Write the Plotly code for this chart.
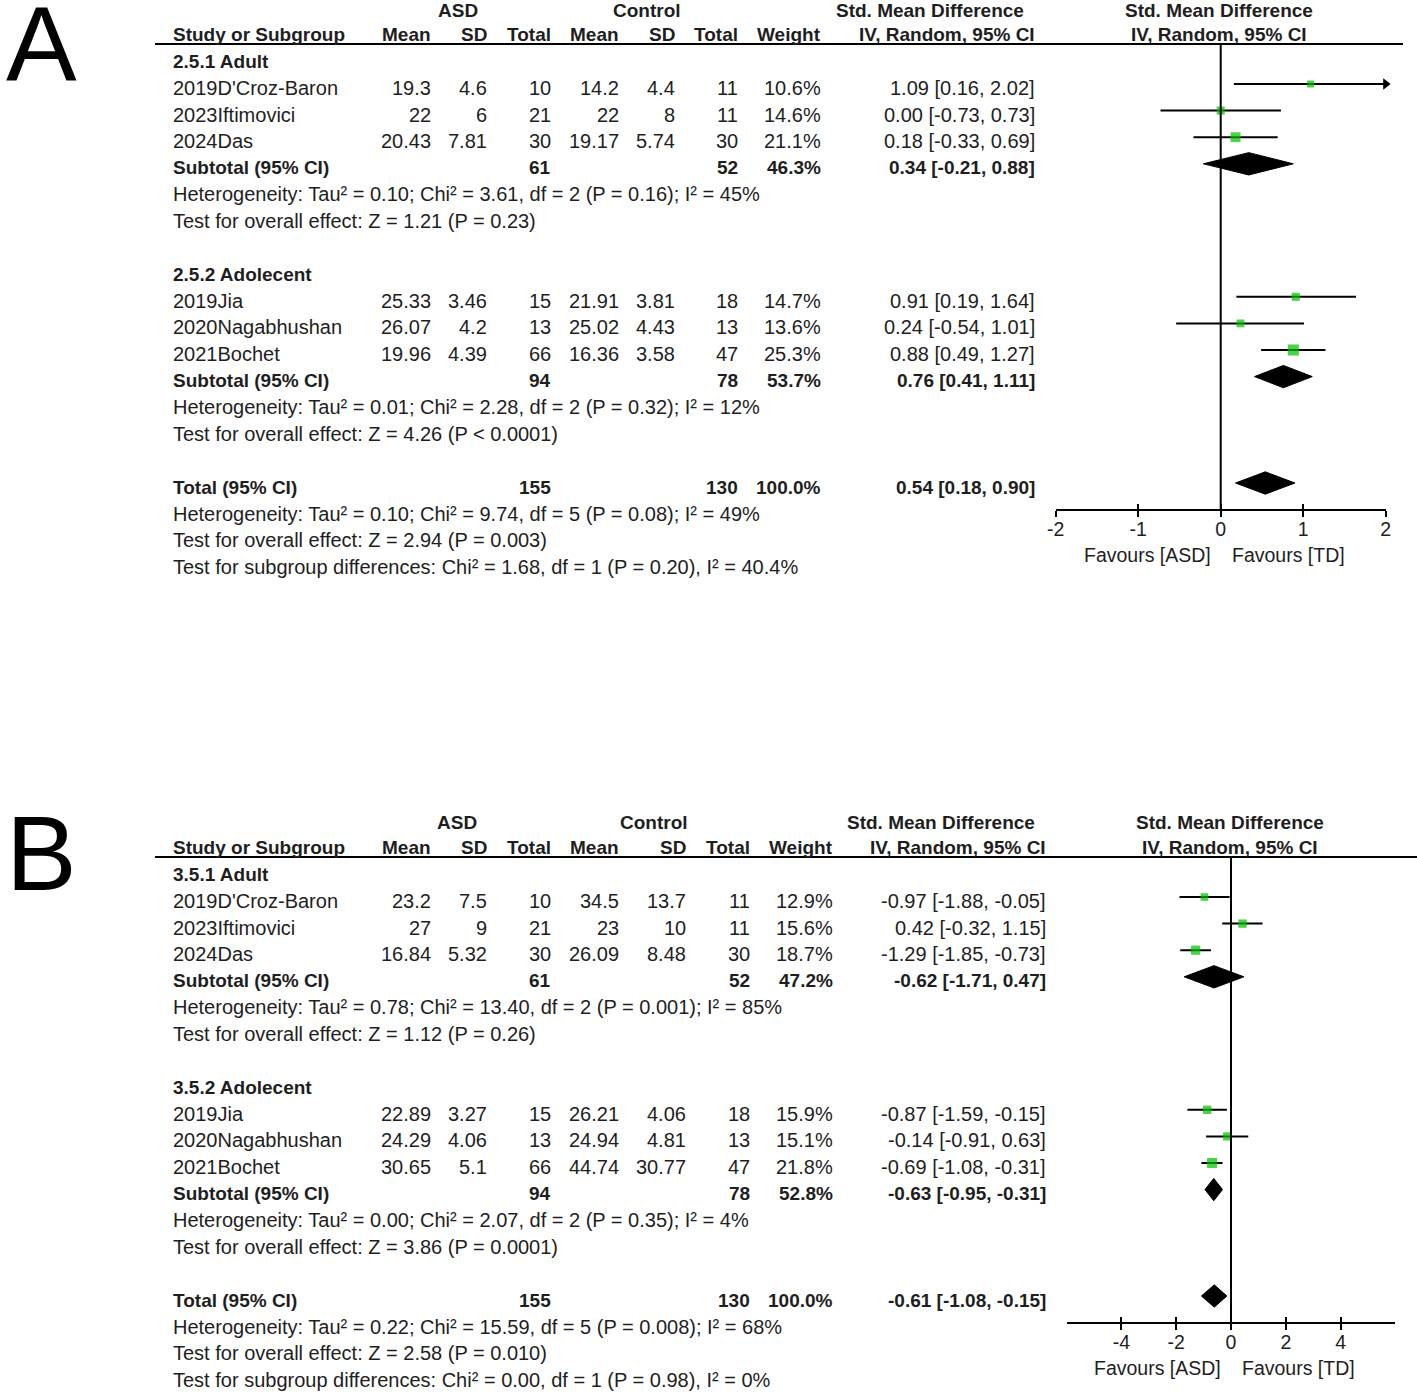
import plotly.graph_objects as go

W, H = 1417, 1397
OFF = 0          # body margin removed by post_script below
ROW_PX = 26.6
FONT = "Liberation Sans"
TXT = "#1e1e1e"
GREEN = "#00c000"

# ---------------- data ----------------
studies = ["2019D'Croz-Baron", "2023Iftimovici", "2024Das",
           "2019Jia", "2020Nagabhushan", "2021Bochet"]
asd_n = [10, 21, 30, 15, 13, 66]
ctl_n = [11, 11, 30, 18, 13, 47]

# Panel A
asd_mean_A = [19.3, 22, 20.43, 25.33, 26.07, 19.96]
asd_sd_A = [4.6, 6, 7.81, 3.46, 4.2, 4.39]
ctl_mean_A = [14.2, 22, 19.17, 21.91, 25.02, 16.36]
ctl_sd_A = [4.4, 8, 5.74, 3.81, 4.43, 3.58]
weight_A = [10.6, 14.6, 21.1, 14.7, 13.6, 25.3]
smd_A = [1.09, 0.00, 0.18, 0.91, 0.24, 0.88]
lo_A = [0.16, -0.73, -0.33, 0.19, -0.54, 0.49]
hi_A = [2.02, 0.73, 0.69, 1.64, 1.01, 1.27]
groups_A = ["2.5.1 Adult", "2.5.2 Adolecent"]
sub_asd_n_A = [61, 94]
sub_ctl_n_A = [52, 78]
sub_weight_A = [46.3, 53.7]
sub_est_A = [0.34, 0.76]
sub_lo_A = [-0.21, 0.41]
sub_hi_A = [0.88, 1.11]
sub_het_A = ["Heterogeneity: Tau² = 0.10; Chi² = 3.61, df = 2 (P = 0.16); I² = 45%",
             "Heterogeneity: Tau² = 0.01; Chi² = 2.28, df = 2 (P = 0.32); I² = 12%"]
sub_test_A = ["Test for overall effect: Z = 1.21 (P = 0.23)",
              "Test for overall effect: Z = 4.26 (P < 0.0001)"]
tot_A = dict(asd=155, ctl=130, weight=100.0, est=0.54, lo=0.18, hi=0.90)
tot_lines_A = ["Heterogeneity: Tau² = 0.10; Chi² = 9.74, df = 5 (P = 0.08); I² = 49%",
               "Test for overall effect: Z = 2.94 (P = 0.003)",
               "Test for subgroup differences: Chi² = 1.68, df = 1 (P = 0.20), I² = 40.4%"]
ticks_A = [-2, -1, 0, 1, 2]

# Panel B
asd_mean_B = [23.2, 27, 16.84, 22.89, 24.29, 30.65]
asd_sd_B = [7.5, 9, 5.32, 3.27, 4.06, 5.1]
ctl_mean_B = [34.5, 23, 26.09, 26.21, 24.94, 44.74]
ctl_sd_B = [13.7, 10, 8.48, 4.06, 4.81, 30.77]
weight_B = [12.9, 15.6, 18.7, 15.9, 15.1, 21.8]
smd_B = [-0.97, 0.42, -1.29, -0.87, -0.14, -0.69]
lo_B = [-1.88, -0.32, -1.85, -1.59, -0.91, -1.08]
hi_B = [-0.05, 1.15, -0.73, -0.15, 0.63, -0.31]
groups_B = ["3.5.1 Adult", "3.5.2 Adolecent"]
sub_asd_n_B = [61, 94]
sub_ctl_n_B = [52, 78]
sub_weight_B = [47.2, 52.8]
sub_est_B = [-0.62, -0.63]
sub_lo_B = [-1.71, -0.95]
sub_hi_B = [0.47, -0.31]
sub_het_B = ["Heterogeneity: Tau² = 0.78; Chi² = 13.40, df = 2 (P = 0.001); I² = 85%",
             "Heterogeneity: Tau² = 0.00; Chi² = 2.07, df = 2 (P = 0.35); I² = 4%"]
sub_test_B = ["Test for overall effect: Z = 1.12 (P = 0.26)",
              "Test for overall effect: Z = 3.86 (P = 0.0001)"]
tot_B = dict(asd=155, ctl=130, weight=100.0, est=-0.61, lo=-1.08, hi=-0.15)
tot_lines_B = ["Heterogeneity: Tau² = 0.22; Chi² = 15.59, df = 5 (P = 0.008); I² = 68%",
               "Test for overall effect: Z = 2.58 (P = 0.010)",
               "Test for subgroup differences: Chi² = 0.00, df = 1 (P = 0.98), I² = 0%"]
ticks_B = [-4, -2, 0, 2, 4]

panels = [
    dict(letter="A", letter_y=42.5, head_y=11, top=30.8, dom=(0, 600), xdom=(1055.7, 1385.7),
         xr=(-2, 2), ticks=ticks_A, line_end=1403, ya="y", xa="x", xo="x3",
         yk="yaxis", xk="xaxis", xok="xaxis3",
         cols=dict(am=433, asd=489, an=553, cm=621, csd=677, cn=740, w=823, ci=1037,
                   h_asd=458, h_ctl=647, h_smd=930, h_plot=1219),
         asd_mean=asd_mean_A, asd_sd=asd_sd_A, ctl_mean=ctl_mean_A, ctl_sd=ctl_sd_A,
         weight=weight_A, smd=smd_A, lo=lo_A, hi=hi_A, groups=groups_A,
         sub_an=sub_asd_n_A, sub_cn=sub_ctl_n_A, sub_w=sub_weight_A, sub_est=sub_est_A,
         sub_lo=sub_lo_A, sub_hi=sub_hi_A, sub_het=sub_het_A, sub_test=sub_test_A,
         tot=tot_A, tot_lines=tot_lines_A),
    dict(letter="B", letter_y=853, head_y=822, top=843.8, dom=(813, H), xdom=(1066.6, 1395.4),
         xr=(-6, 6), ticks=ticks_B, line_end=1417, ya="y2", xa="x2", xo="x4",
         yk="yaxis2", xk="xaxis2", xok="xaxis4",
         cols=dict(am=433, asd=489, an=553, cm=621, csd=688, cn=752, w=835, ci=1048,
                   h_asd=457, h_ctl=654, h_smd=941.5, h_plot=1230),
         asd_mean=asd_mean_B, asd_sd=asd_sd_B, ctl_mean=ctl_mean_B, ctl_sd=ctl_sd_B,
         weight=weight_B, smd=smd_B, lo=lo_B, hi=hi_B, groups=groups_B,
         sub_an=sub_asd_n_B, sub_cn=sub_ctl_n_B, sub_w=sub_weight_B, sub_est=sub_est_B,
         sub_lo=sub_lo_B, sub_hi=sub_hi_B, sub_het=sub_het_B, sub_test=sub_test_B,
         tot=tot_B, tot_lines=tot_lines_B),
]


def px_x(x):
    return (x - OFF) / W


def px_y(y):
    return 1 - (y - OFF) / H


fig = go.Figure()
LEFT = 171
SIZE = 20
BSIZE = 19
DY = -4


def ci_text(e, l, h):
    return f"{e:.2f} [{l:.2f}, {h:.2f}]"


for P in panels:
    ya, xa = P["ya"], P["xa"]
    c = P["cols"]

    def txt(xpx, row, s, anchor="right", b=False, dy=DY):
        fig.add_annotation(x=px_x(xpx), xref="paper", y=row, yref=ya,
                           text=f"<b>{s}</b>" if b else s,
                           showarrow=False, xanchor=anchor, yanchor="middle", yshift=dy,
                           font=dict(family=FONT, size=BSIZE if b else SIZE, color=TXT))

    def head(xpx, s):
        fig.add_annotation(x=px_x(xpx), xref="paper", y=px_y(P["head_y"]), yref="paper",
                           text=f"<b>{s}</b>", showarrow=False, xanchor="center",
                           yanchor="middle", font=dict(family=FONT, size=BSIZE, color=TXT))

    # headers
    head(c["h_asd"], "ASD")
    head(c["h_ctl"], "Control")
    head(c["h_smd"], "Std. Mean Difference")
    head(c["h_plot"], "Std. Mean Difference")
    txt(LEFT, 0, "Study or Subgroup", "left", True)
    for k, lab in [("am", "Mean"), ("asd", "SD"), ("an", "Total"), ("cm", "Mean"),
                   ("csd", "SD"), ("cn", "Total"), ("w", "Weight"), ("ci", "IV, Random, 95% CI")]:
        txt(c[k], 0, lab, "right", True)
    txt(c["h_plot"], 0, "IV, Random, 95% CI", "center", True)

    # rows
    rows = []
    for g in range(2):
        base = 8 * g
        txt(LEFT, base + 1, P["groups"][g], "left", True)
        for j in range(3):
            i = 3 * g + j
            r = base + 2 + j
            rows.append(r)
            txt(LEFT, r, studies[i], "left")
            txt(c["am"], r, f"{P['asd_mean'][i]:g}")
            txt(c["asd"], r, f"{P['asd_sd'][i]:g}")
            txt(c["an"], r, f"{asd_n[i]}")
            txt(c["cm"], r, f"{P['ctl_mean'][i]:g}")
            txt(c["csd"], r, f"{P['ctl_sd'][i]:g}")
            txt(c["cn"], r, f"{ctl_n[i]}")
            txt(c["w"], r, f"{P['weight'][i]:.1f}%")
            txt(c["ci"], r, ci_text(P["smd"][i], P["lo"][i], P["hi"][i]))
        rs = base + 5
        txt(LEFT, rs, "Subtotal (95% CI)", "left", True)
        txt(c["an"], rs, f"{P['sub_an'][g]}", b=True)
        txt(c["cn"], rs, f"{P['sub_cn'][g]}", b=True)
        txt(c["w"], rs, f"{P['sub_w'][g]:.1f}%", b=True)
        txt(c["ci"], rs, ci_text(P["sub_est"][g], P["sub_lo"][g], P["sub_hi"][g]), b=True)
        txt(LEFT, base + 6, P["sub_het"][g], "left")
        txt(LEFT, base + 7, P["sub_test"][g], "left")
        e, l, h = P["sub_est"][g], P["sub_lo"][g], P["sub_hi"][g]
        fig.add_trace(go.Scatter(x=[l, e, h, e, l], y=[rs, rs - 0.42, rs, rs + 0.42, rs],
                                 mode="lines", fill="toself", fillcolor="black",
                                 line=dict(color="black", width=1), xaxis=xa, yaxis=ya,
                                 hoverinfo="skip", showlegend=False))
    T = P["tot"]
    txt(LEFT, 17, "Total (95% CI)", "left", True)
    txt(c["an"], 17, f"{T['asd']}", b=True)
    txt(c["cn"], 17, f"{T['ctl']}", b=True)
    txt(c["w"], 17, f"{T['weight']:.1f}%", b=True)
    txt(c["ci"], 17, ci_text(T["est"], T["lo"], T["hi"]), b=True)
    for k, s in enumerate(P["tot_lines"]):
        txt(LEFT, 18 + k, s, "left")
    fig.add_trace(go.Scatter(x=[T["lo"], T["est"], T["hi"], T["est"], T["lo"]],
                             y=[17, 17 - 0.42, 17, 17 + 0.42, 17],
                             mode="lines", fill="toself", fillcolor="black",
                             line=dict(color="black", width=1), xaxis=xa, yaxis=ya,
                             hoverinfo="skip", showlegend=False))

    # CI lines (clipped at axis range, with arrow when beyond)
    xmin, xmax = P["xr"]
    for i, r in enumerate(rows):
        l, h = max(P["lo"][i], xmin), min(P["hi"][i], xmax)
        fig.add_trace(go.Scatter(x=[l, h], y=[r, r], mode="lines",
                                 line=dict(color="black", width=2), xaxis=xa, yaxis=ya,
                                 hoverinfo="skip", showlegend=False))
        if P["hi"][i] > xmax:
            fig.add_trace(go.Scatter(x=[xmax], y=[r], mode="markers", cliponaxis=False,
                                     marker=dict(symbol="triangle-right", size=10, color="black"),
                                     xaxis=xa, yaxis=ya, hoverinfo="skip", showlegend=False))
        if P["lo"][i] < xmin:
            fig.add_trace(go.Scatter(x=[xmin], y=[r], mode="markers", cliponaxis=False,
                                     marker=dict(symbol="triangle-left", size=10, color="black"),
                                     xaxis=xa, yaxis=ya, hoverinfo="skip", showlegend=False))
    fig.add_trace(go.Scatter(x=P["smd"], y=rows, mode="markers", cliponaxis=False,
                             marker=dict(symbol="square", color=GREEN,
                                         size=[4 + 0.28 * w for w in P["weight"]], line=dict(width=0)),
                             xaxis=xa, yaxis=ya, hoverinfo="skip", showlegend=False))
    fig.add_trace(go.Scatter(x=[], y=[], xaxis=P["xo"], yaxis=ya, showlegend=False))

    # header line and zero line
    fig.add_shape(type="line", xref="paper", yref=ya, x0=px_x(155), x1=px_x(P["line_end"]),
                  y0=0.5, y1=0.5, line=dict(color="black", width=2))
    fig.add_shape(type="line", xref=xa, yref=ya, x0=0, x1=0, y0=0.5, y1=18,
                  line=dict(color="black", width=2))

    # Favours labels
    fig.add_annotation(x=0, xref=xa, y=19.7, yref=ya, text="Favours [ASD]", showarrow=False,
                       xanchor="right", xshift=-8, yanchor="middle",
                       font=dict(family=FONT, size=19.5, color=TXT))
    fig.add_annotation(x=0, xref=xa, y=19.7, yref=ya, text="Favours [TD]", showarrow=False,
                       xanchor="left", xshift=9, yanchor="middle",
                       font=dict(family=FONT, size=19.5, color=TXT))

    # panel letter
    fig.add_annotation(x=px_x(4), xref="paper", y=px_y(P["letter_y"]), yref="paper",
                       text=P["letter"], showarrow=False, xanchor="left", yanchor="middle",
                       font=dict(family=FONT, size=106, color="black"))

    # axes
    p0, p1 = P["dom"]
    rtop = (p0 - P["top"]) / ROW_PX
    rbot = (p1 - P["top"]) / ROW_PX
    fig.layout[P["yk"]] = dict(domain=[px_y(p1), px_y(p0)], range=[rbot, rtop],
                               visible=False, anchor=xa, automargin=False)
    pos = px_y(P["top"] + 18 * ROW_PX)
    xd = [px_x(P["xdom"][0]), px_x(P["xdom"][1])]
    fig.layout[P["xk"]] = dict(domain=xd, range=list(P["xr"]), anchor="free", position=pos,
                               showgrid=False, zeroline=False, showline=True, linecolor="black",
                               linewidth=2, ticks="outside", ticklen=6, tickwidth=2,
                               tickcolor="black", tickvals=P["ticks"],
                               ticktext=[f"{v:g}" for v in P["ticks"]], automargin=False,
                               ticklabelstandoff=-4,
                               tickfont=dict(family=FONT, size=19.5, color=TXT))
    fig.layout[P["xok"]] = dict(overlaying=xa, range=list(P["xr"]), anchor="free", position=pos,
                                showgrid=False, zeroline=False, showline=False, ticks="inside",
                                ticklen=6, tickwidth=2, tickcolor="black", tickvals=P["ticks"],
                                showticklabels=False, automargin=False)

fig.update_layout(width=W, height=H, margin=dict(l=0, r=0, t=0, b=0, autoexpand=False),
                  paper_bgcolor="white", plot_bgcolor="rgba(0,0,0,0)", showlegend=False)
fig.write_html("out.html", config={"displayModeBar": False},
               post_script="document.body.style.margin='0';document.body.style.overflow='hidden';")
